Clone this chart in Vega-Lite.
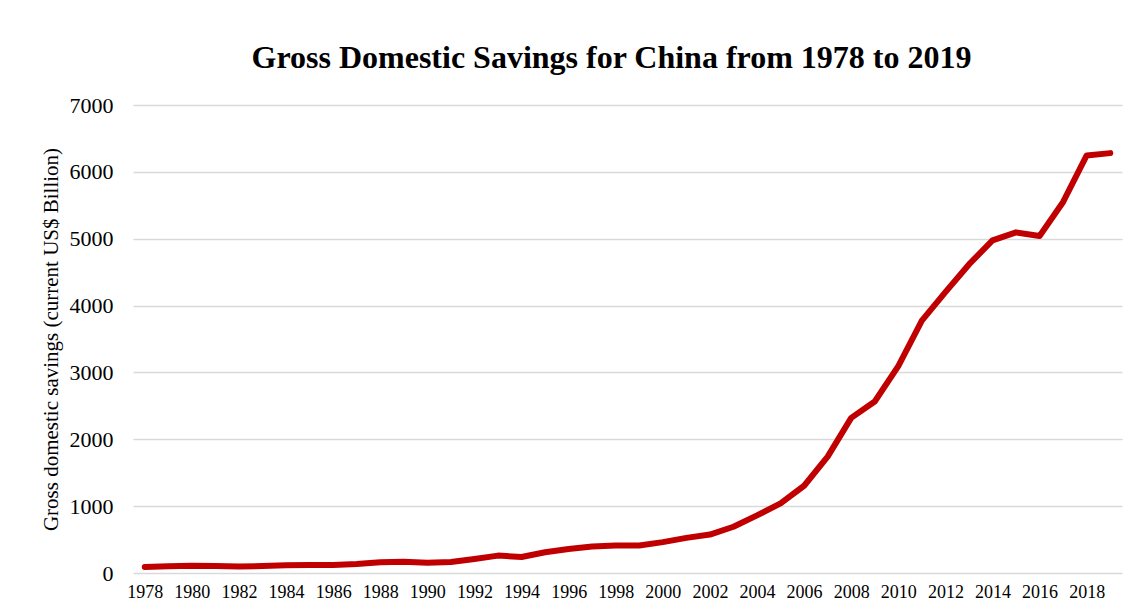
{
  "$schema": "https://vega.github.io/schema/vega-lite/v6.json",
  "width": 989,
  "height": 468,
  "autosize": {"type": "none"},
  "padding": {"left": 133, "top": 105, "right": 19, "bottom": 37},
  "background": "white",
  "title": {
    "text": "Gross Domestic Savings for China from 1978 to 2019",
    "font": "Liberation Serif",
    "fontSize": 32,
    "fontWeight": "bold",
    "color": "black",
    "anchor": "middle",
    "dx": -16,
    "offset": 19
  },
  "data": {
    "values": [
      {"year": 1978, "savings": 90},
      {"year": 1979, "savings": 100},
      {"year": 1980, "savings": 110},
      {"year": 1981, "savings": 103},
      {"year": 1982, "savings": 97},
      {"year": 1983, "savings": 105},
      {"year": 1984, "savings": 115},
      {"year": 1985, "savings": 118},
      {"year": 1986, "savings": 120},
      {"year": 1987, "savings": 135},
      {"year": 1988, "savings": 160},
      {"year": 1989, "savings": 170},
      {"year": 1990, "savings": 155},
      {"year": 1991, "savings": 165},
      {"year": 1992, "savings": 210},
      {"year": 1993, "savings": 260},
      {"year": 1994, "savings": 240},
      {"year": 1995, "savings": 310},
      {"year": 1996, "savings": 360},
      {"year": 1997, "savings": 395},
      {"year": 1998, "savings": 410},
      {"year": 1999, "savings": 412},
      {"year": 2000, "savings": 462},
      {"year": 2001, "savings": 525},
      {"year": 2002, "savings": 575},
      {"year": 2003, "savings": 692},
      {"year": 2004, "savings": 862},
      {"year": 2005, "savings": 1042},
      {"year": 2006, "savings": 1305},
      {"year": 2007, "savings": 1740},
      {"year": 2008, "savings": 2320},
      {"year": 2009, "savings": 2565},
      {"year": 2010, "savings": 3095},
      {"year": 2011, "savings": 3775},
      {"year": 2012, "savings": 4200},
      {"year": 2013, "savings": 4615},
      {"year": 2014, "savings": 4975},
      {"year": 2015, "savings": 5095},
      {"year": 2016, "savings": 5040},
      {"year": 2017, "savings": 5550},
      {"year": 2018, "savings": 6245},
      {"year": 2019, "savings": 6280}
    ]
  },
  "mark": {
    "type": "line",
    "color": "#C00000",
    "strokeWidth": 6,
    "strokeCap": "round",
    "strokeJoin": "round"
  },
  "encoding": {
    "x": {
      "field": "year",
      "type": "ordinal",
      "scale": {"type": "point", "padding": 0.5},
      "axis": {
        "title": null,
        "values": [1978, 1980, 1982, 1984, 1986, 1988, 1990, 1992, 1994, 1996, 1998, 2000, 2002, 2004, 2006, 2008, 2010, 2012, 2014, 2016, 2018],
        "labelAngle": 0,
        "labelFont": "Liberation Serif",
        "labelFontSize": 18,
        "labelColor": "black",
        "labelPadding": 10,
        "ticks": false,
        "domain": false,
        "grid": false
      }
    },
    "y": {
      "field": "savings",
      "type": "quantitative",
      "scale": {"domain": [0, 7000], "nice": false, "zero": true},
      "axis": {
        "title": "Gross domestic savings (current US$ Billion)",
        "titleFont": "Liberation Serif",
        "titleFontSize": 21,
        "titleFontWeight": "normal",
        "titleColor": "black",
        "titlePadding": 8,
        "values": [0, 1000, 2000, 3000, 4000, 5000, 6000, 7000],
        "format": "d",
        "labelFont": "Liberation Serif",
        "labelFontSize": 22,
        "labelColor": "black",
        "labelPadding": 20,
        "ticks": false,
        "domain": false,
        "grid": true,
        "gridColor": "#d9d9d9",
        "gridWidth": 1.3
      }
    }
  },
  "config": {
    "view": {"stroke": null}
  }
}
